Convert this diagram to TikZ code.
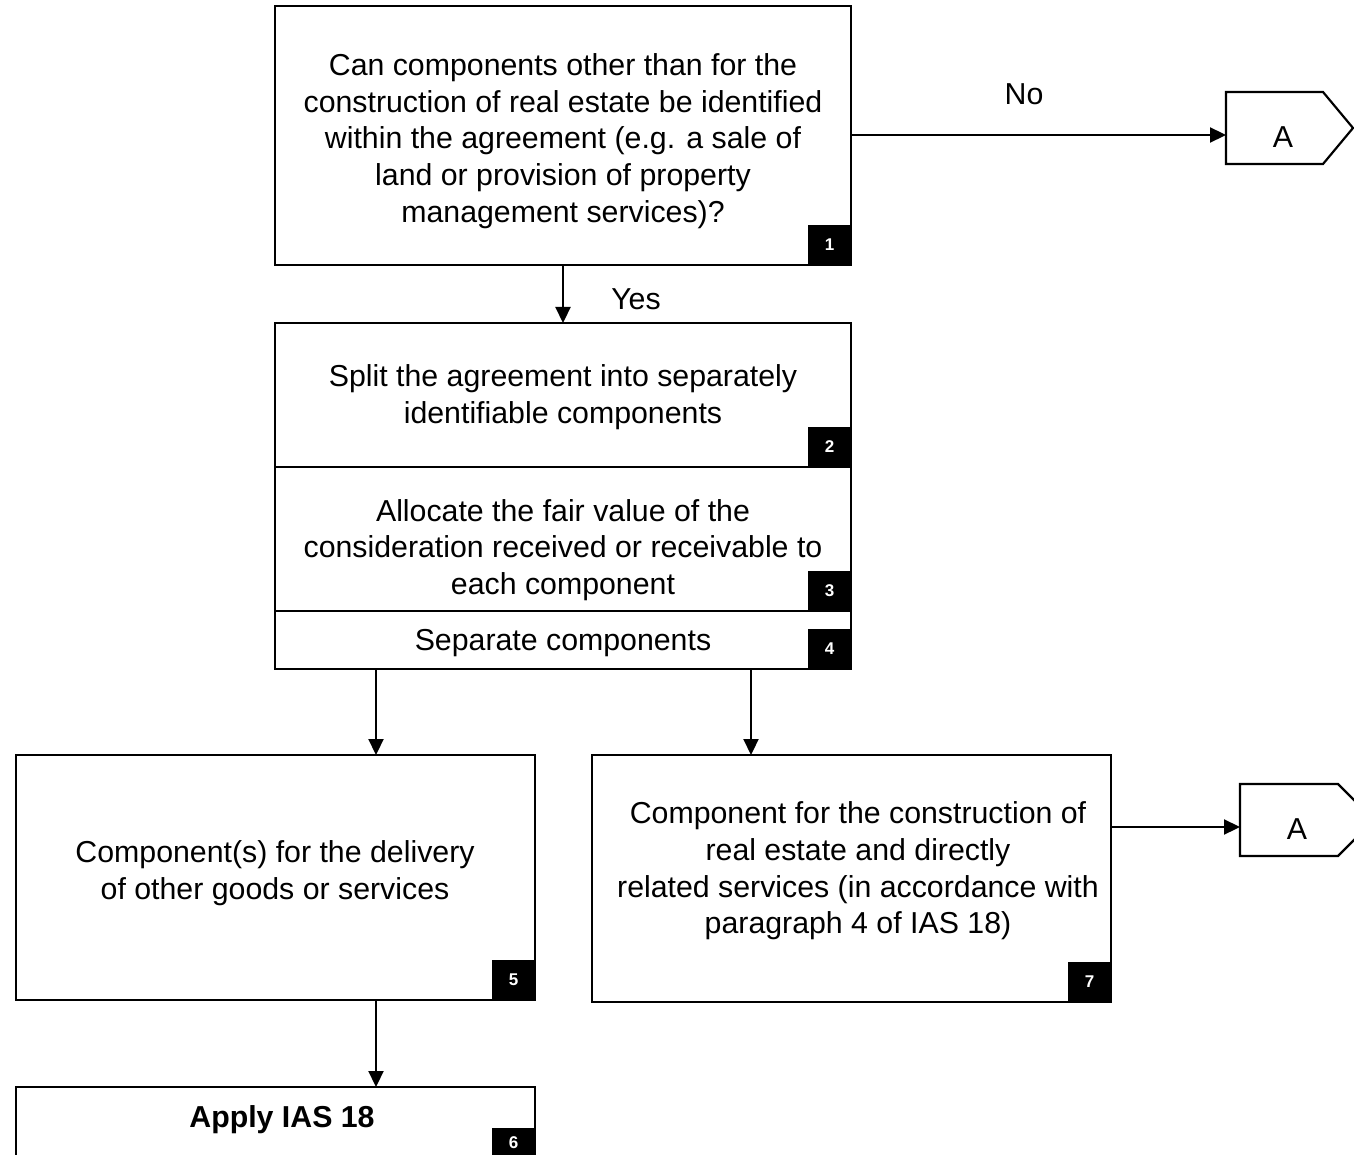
\documentclass[tikz,border=0pt]{standalone}
\usepackage{fontspec}
\setmainfont{Liberation Sans}
\usetikzlibrary{arrows.meta}
\begin{document}
\begin{tikzpicture}[x=1pt,y=-1pt,
  box/.style={draw, line width=2.2pt, inner sep=0pt, outer sep=0pt, fill=white},
  num/.style={fill=black, text=white, inner sep=0pt, outer sep=0pt, minimum width=43pt, minimum height=40pt, font=\fontsize{17}{19}\selectfont\bfseries},
  txt/.style={align=center, inner sep=0pt, font=\fontsize{30.3}{36.6}\selectfont},
  conn/.style={line width=2.2pt, -{Triangle[length=16pt,width=15pt]}},
  lbl/.style={inner sep=0pt, font=\fontsize{30.3}{36.6}\selectfont},
  pent/.style={draw, line width=2.2pt}
]
\useasboundingbox (0,0) rectangle (1354,1155);
\clip (0,0) rectangle (1354,1155);

% boxes
\node[box, minimum width=576pt, minimum height=259pt] (b1) at (563,135.5) {};
\node[box, minimum width=576pt, minimum height=144pt] (b2) at (563,395) {};
\node[box, minimum width=576pt, minimum height=144pt] (b3) at (563,539) {};
\node[box, minimum width=576pt, minimum height=58pt] (b4) at (563,640) {};
\node[box, minimum width=519pt, minimum height=245pt] (b5) at (275.5,877.5) {};
\node[box, minimum width=519pt, minimum height=71pt] (b6) at (275.5,1122.5) {};
\node[box, minimum width=519pt, minimum height=247pt] (b7) at (851.5,878.5) {};

% number tags
\node[num, anchor=south east] (n1) at (b1.south east) {1};
\node[num, anchor=south east] (n2) at (b2.south east) {2};
\node[num, anchor=south east] (n3) at (b3.south east) {3};
\node[num, anchor=south east] (n4) at (b4.south east) {4};
\node[num, anchor=south east] (n5) at (b5.south east) {5};
\node[num, anchor=south east, minimum height=30pt] (n6) at (b6.south east) {6};
\node[num, anchor=south east] (n7) at (b7.south east) {7};

% texts
\node[txt] (t1) at (563,141) {Can components other than for the\\construction of real estate be identified\\within the agreement (e.g. a sale of\\land or provision of property\\management services)?};
\node[txt] (t2) at (563,397) {Split the agreement into separately\\identifiable components};
\node[txt] (t3) at (563,550) {Allocate the fair value of the\\consideration received or receivable to\\each component};
\node[txt] (t4) at (563,643) {Separate components};
\node[txt] (t5) at (275,873) {Component(s) for the delivery\\of other goods or services};
\node[txt] (t7) at (858,871) {Component for the construction of\\real estate and directly\\related services (in accordance with\\paragraph 4 of IAS 18)};
\node[txt, font=\fontsize{30.3}{36.6}\selectfont\bfseries] (t6) at (282,1120) {Apply IAS 18};

% connector pentagons
\node[inner sep=0pt, outer sep=0pt, minimum width=97pt, minimum height=72pt] (a1) at (1274.5,128) {};
\draw[pent] (a1.north west) -- (a1.north east) -- ++(30,36) -- (a1.south east) -- (a1.south west) -- cycle;
\node[lbl] (a1t) at (1283,137) {A};
\node[inner sep=0pt, outer sep=0pt, minimum width=98pt, minimum height=72pt] (a2) at (1289,820) {};
\draw[pent] (a2.north west) -- (a2.north east) -- ++(36,36) -- (a2.south east) -- (a2.south west) -- cycle;
\node[lbl] (a2t) at (1297,829) {A};

% connectors
\coordinate (p1) at (b1.east |- 0,135);
\coordinate (q1) at (a1.west |- 0,135);
\draw[conn] (p1) -- (q1);
\node[lbl] (no) at (1024,94) {No};
\draw[conn] (b1.south) -- (b2.north);
\node[lbl] (yes) at (636,299) {Yes};
\coordinate (p5) at (376,669);
\coordinate (q5) at (376,755);
\draw[conn] (p5) -- (q5 |- b5.north);
\coordinate (p7) at (751,669);
\draw[conn] (p7) -- (p7 |- b7.north);
\coordinate (p6) at (376,1000);
\draw[conn] (p6) -- (p6 |- b6.north);
\coordinate (p8) at (b7.east |- 0,827);
\draw[conn] (p8) -- (a2.west |- 0,827);
\end{tikzpicture}
\end{document}
